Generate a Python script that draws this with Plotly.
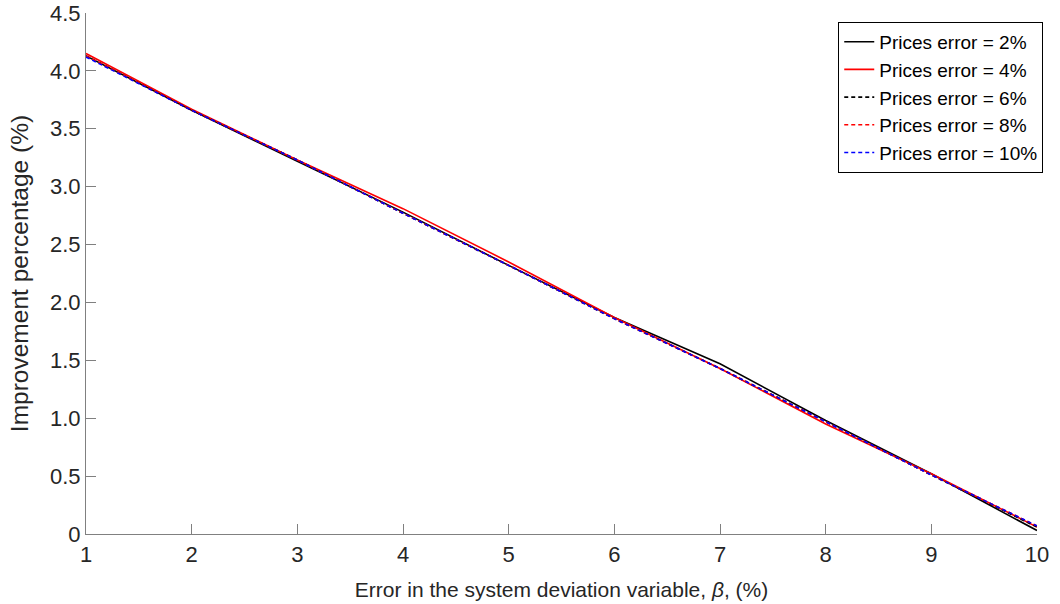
import plotly.graph_objects as go

beta = [1, 2, 3, 4, 5, 6, 7, 8, 9, 10]
err2 = [4.13, 3.66, 3.22, 2.78, 2.32, 1.87, 1.47, 0.98, 0.52, 0.03]
err4 = [4.15, 3.67, 3.23, 2.81, 2.35, 1.87, 1.43, 0.95, 0.52, 0.06]
err6 = [4.13, 3.66, 3.23, 2.77, 2.32, 1.86, 1.43, 0.97, 0.51, 0.06]
err8 = [4.13, 3.66, 3.23, 2.77, 2.32, 1.86, 1.43, 0.97, 0.51, 0.07]
err10 = [4.12, 3.66, 3.23, 2.77, 2.32, 1.86, 1.43, 0.97, 0.51, 0.07]
yticks = [0, 0.5, 1, 1.5, 2, 2.5, 3, 3.5, 4, 4.5]
ytick_text = ["0", "0.5", "1.0", "1.5", "2.0", "2.5", "3.0", "3.5", "4.0", "4.5"]

series = [
    ("Prices error = 2%", err2, "black", "solid"),
    ("Prices error = 4%", err4, "red", "solid"),
    ("Prices error = 6%", err6, "black", "4px,3px"),
    ("Prices error = 8%", err8, "red", "4px,3px"),
    ("Prices error = 10%", err10, "blue", "4px,3px"),
]

fig = go.Figure()
for name, ys, col, dash in series:
    fig.add_trace(go.Scatter(x=beta, y=ys, mode="lines", name=name,
                             line=dict(color=col, width=1.6, dash=dash)))

FONT = "Liberation Sans, Arial, sans-serif"
axis_common = dict(showline=True, linecolor="#808080", linewidth=1.2,
                   ticks="inside", ticklen=10, tickcolor="#808080",
                   showgrid=False, zeroline=False, mirror=False, automargin=False,
                   tickfont=dict(family=FONT, size=22, color="#262626"))

fig.update_layout(
    width=1060, height=604,
    margin=dict(l=86, r=23, t=13, b=70),
    plot_bgcolor="white", paper_bgcolor="white",
    font=dict(family=FONT, color="#262626"),
    xaxis=dict(range=[1, 10], tickvals=beta,
               title=dict(text="Error in the system deviation variable, <i>β</i>, (%)",
                          font=dict(size=21, family=FONT, color="#262626"), standoff=16),
               **axis_common),
    yaxis=dict(range=[0, 4.5], tickvals=yticks, ticktext=ytick_text,
               title=dict(text="Improvement percentage (%)",
                          font=dict(size=24.5, family=FONT, color="#262626"), standoff=14),
               **axis_common),
    legend=dict(x=0.791, y=0.983, xanchor="left", yanchor="top",
                bgcolor="white", bordercolor="black", borderwidth=1,
                font=dict(size=19, color="black", family=FONT), tracegroupgap=0,
                itemwidth=30),
    showlegend=True,
)

fig.write_html("out.html", config={"displayModeBar": False},
               post_script="document.body.style.margin='0px';")
